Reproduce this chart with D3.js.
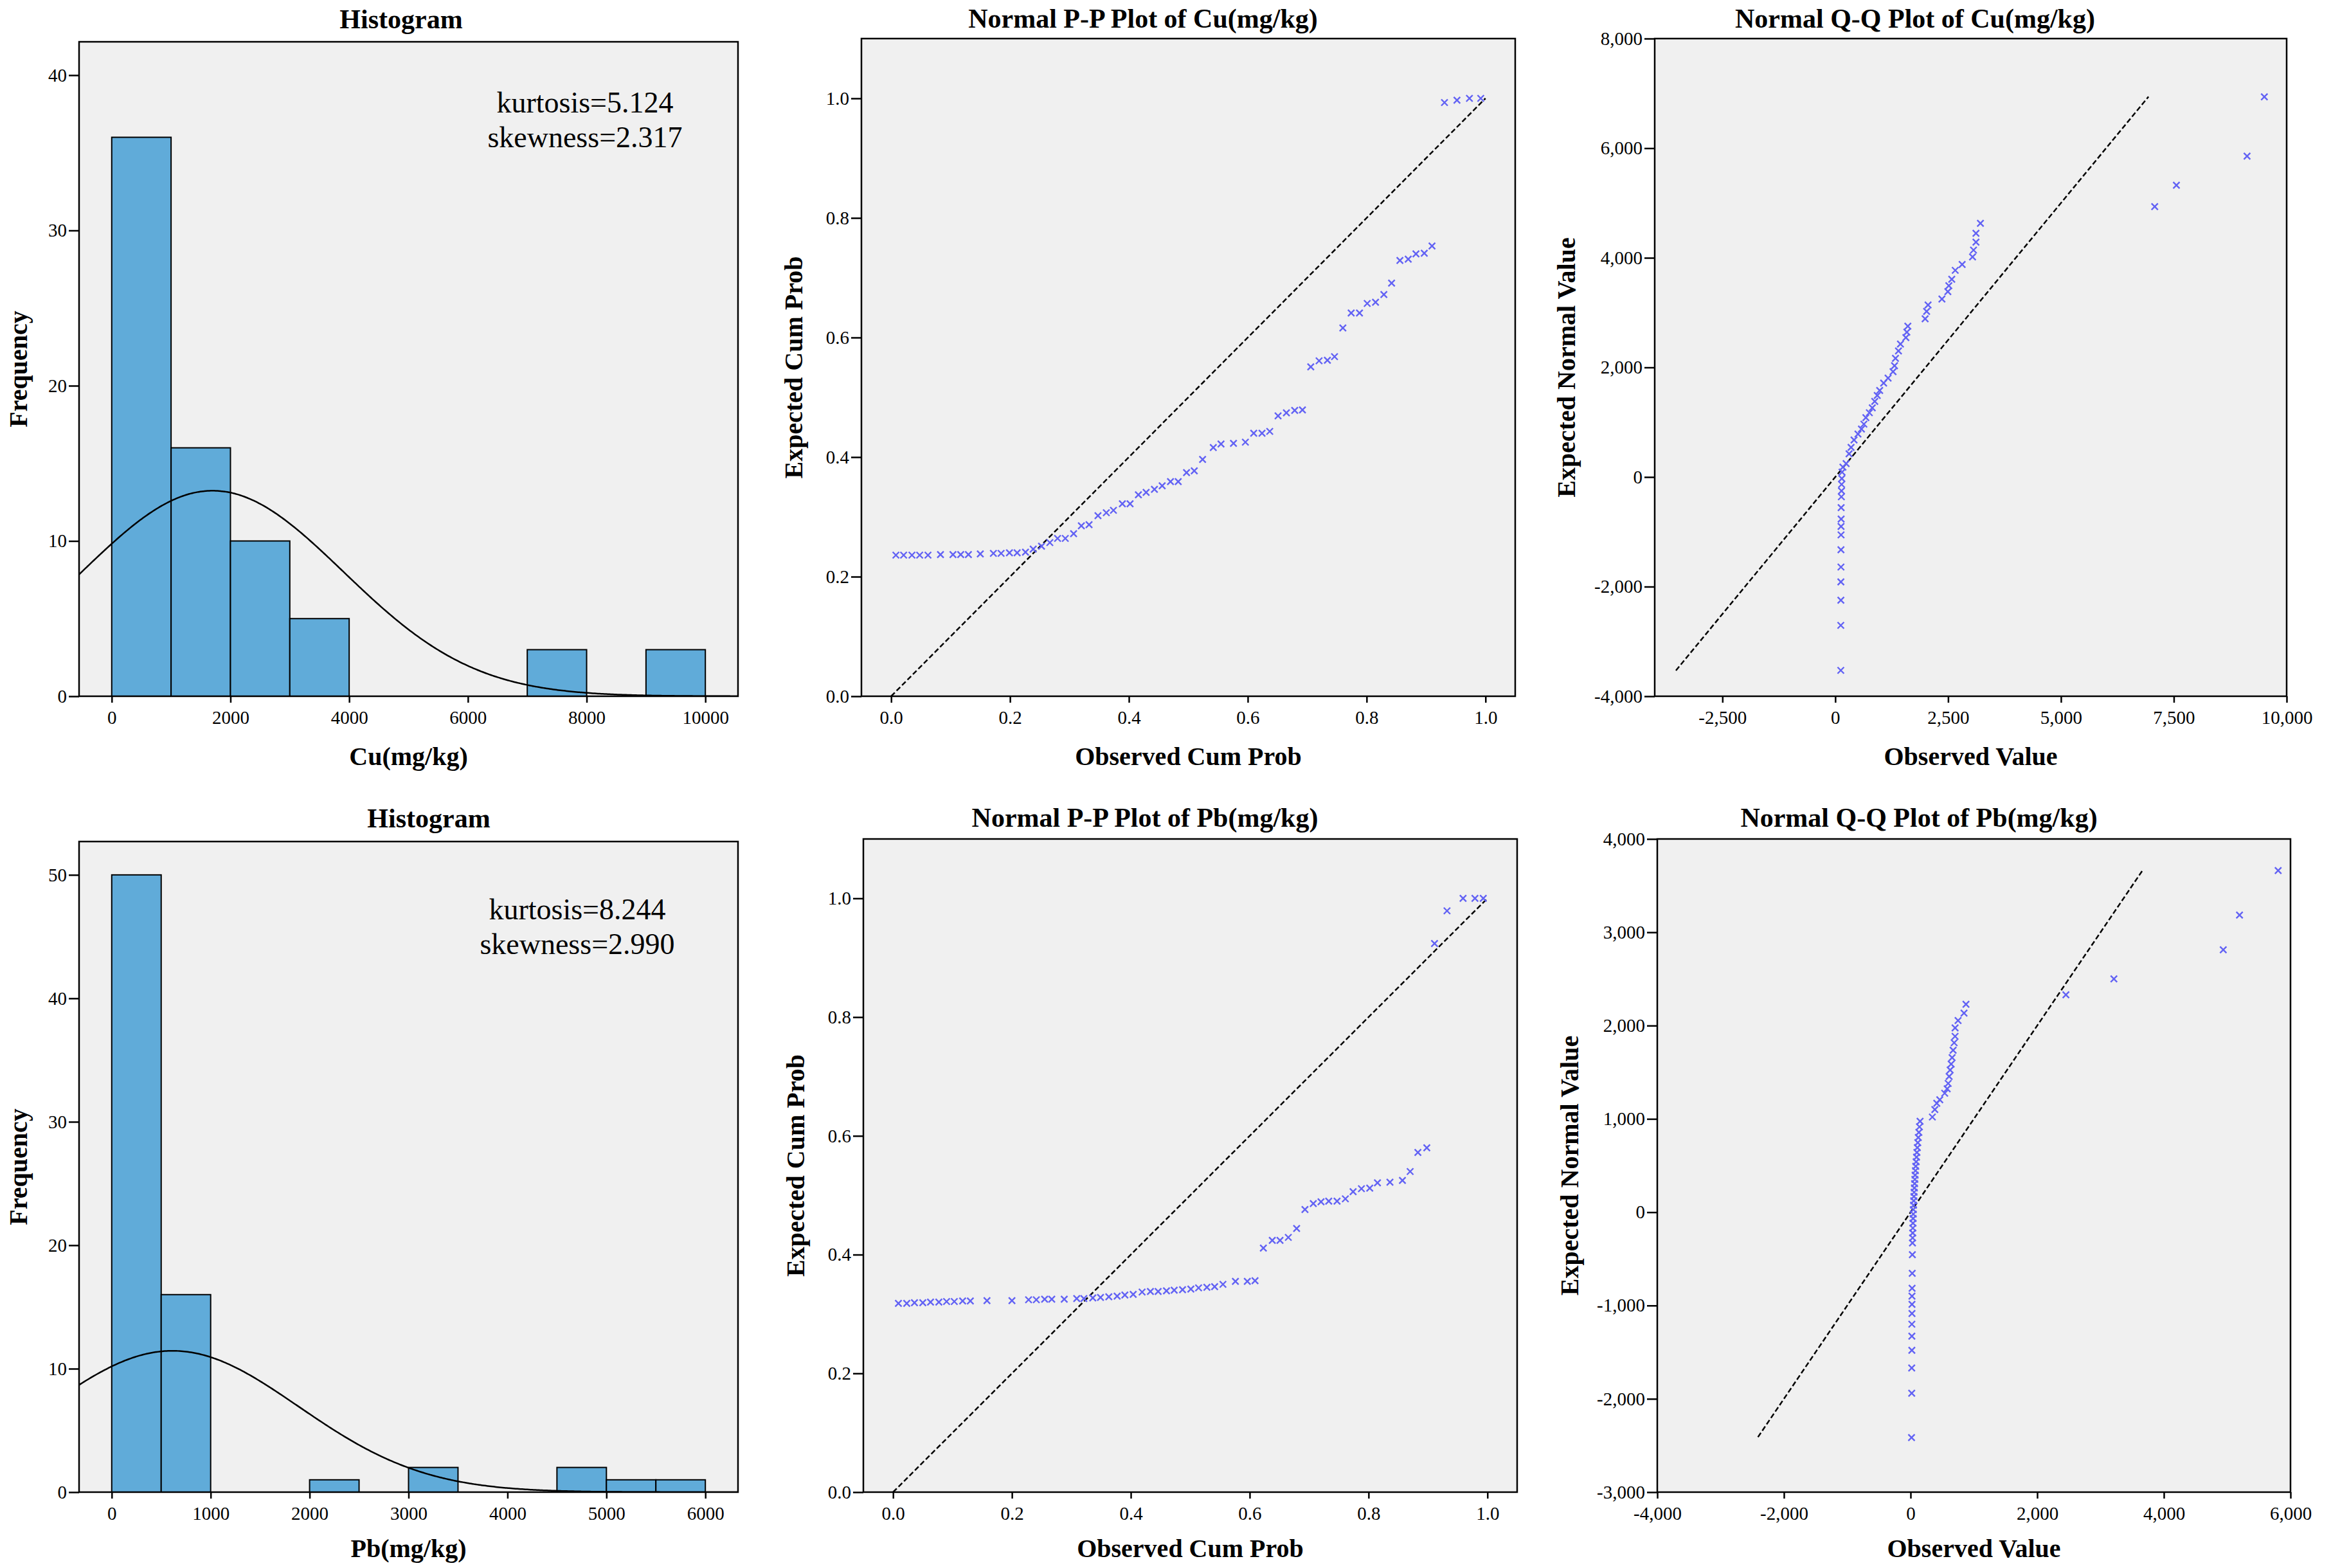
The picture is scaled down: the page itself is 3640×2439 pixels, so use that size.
<!DOCTYPE html>
<html>
<head>
<meta charset="utf-8">
<script src="https://cdn.jsdelivr.net/npm/d3@7"></script>
<style>
body { margin: 0; background: #fff; }
</style>
</head>
<body>
<div id="chart"></div>
<script>
const width = 3640, height = 2439;

// histogram bins: lower edge + count
const cuBinLo = [0, 1000, 2000, 3000, 7000, 9000];
const cuBinCounts = [36, 16, 10, 5, 3, 3];
const cuBinWidth = 1000;
const pbBinLo = [0, 500, 2000, 3000, 4500, 5000, 5500];
const pbBinCounts = [50, 16, 1, 2, 2, 1, 1];
const pbBinWidth = 500;

// fitted normal curve parameters
const sampleN = 73;
const cuMean = 1700, cuSd = 2200;
const pbMean = 615, pbSd = 1272;
const cuNotes = ["kurtosis=5.124", "skewness=2.317"];
const pbNotes = ["kurtosis=8.244", "skewness=2.990"];

// P-P plots (observed cum prob, expected cum prob)
const ppCuObs = [0.008,0.021,0.035,0.048,0.062,0.083,0.104,0.117,0.130,0.150,0.172,0.185,0.199,0.212,0.226,0.239,0.253,0.267,0.280,0.293,0.307,0.320,0.333,0.348,0.362,0.374,0.389,0.402,0.416,0.429,0.443,0.456,0.470,0.483,0.497,0.510,0.524,0.542,0.555,0.576,0.596,0.610,0.624,0.637,0.651,0.665,0.679,0.692,0.706,0.720,0.734,0.746,0.760,0.774,0.788,0.801,0.815,0.829,0.842,0.856,0.870,0.883,0.897,0.910,0.931,0.952,0.973,0.992];
const ppCuExp = [0.236,0.236,0.236,0.236,0.236,0.237,0.237,0.237,0.237,0.238,0.239,0.239,0.240,0.240,0.241,0.246,0.251,0.257,0.264,0.264,0.272,0.285,0.287,0.302,0.307,0.311,0.322,0.322,0.337,0.341,0.346,0.352,0.359,0.359,0.374,0.377,0.396,0.416,0.422,0.423,0.425,0.440,0.440,0.443,0.469,0.474,0.478,0.479,0.551,0.561,0.562,0.568,0.616,0.641,0.641,0.657,0.659,0.672,0.691,0.729,0.731,0.740,0.741,0.753,0.993,0.997,1.000,1.000];
const ppPbObs = [0.009,0.023,0.036,0.050,0.063,0.077,0.090,0.103,0.117,0.130,0.158,0.200,0.228,0.241,0.255,0.267,0.288,0.309,0.321,0.336,0.349,0.363,0.377,0.390,0.404,0.419,0.433,0.446,0.460,0.473,0.487,0.501,0.514,0.528,0.541,0.555,0.576,0.596,0.609,0.623,0.638,0.651,0.665,0.679,0.693,0.707,0.720,0.733,0.747,0.761,0.774,0.788,0.802,0.815,0.836,0.857,0.870,0.883,0.898,0.911,0.932,0.959,0.979,0.993];
const ppPbExp = [0.318,0.318,0.319,0.319,0.320,0.320,0.321,0.321,0.322,0.322,0.3225,0.3225,0.324,0.324,0.325,0.325,0.325,0.326,0.326,0.327,0.328,0.329,0.330,0.332,0.333,0.337,0.338,0.338,0.339,0.340,0.341,0.342,0.344,0.345,0.346,0.350,0.355,0.355,0.356,0.411,0.424,0.424,0.429,0.444,0.476,0.486,0.489,0.490,0.490,0.494,0.506,0.511,0.512,0.521,0.522,0.525,0.540,0.572,0.580,0.924,0.979,1.000,1.000,1.000];

// Q-Q plots (observed value, expected normal value)
const qqCuObs = [122,122,124,124,126,126,128,128,130,130,135,138,140,145,150,170,241,306,350,416,503,580,634,678,755,820,875,930,984,1072,1170,1280,1313,1334,1400,1444,1564,1586,1608,1991,2024,2056,2363,2494,2516,2581,2658,2811,3041,3063,3117,3117,3216,7077,7558,9123,9506];
const qqCuExp = [-3528,-2707,-2247,-1913,-1642,-1326,-1056,-902,-767,-559,-361,-253,-135,-27,90,180,244,424,541,677,785,875,965,1083,1173,1263,1380,1489,1579,1714,1804,1922,2030,2165,2301,2427,2544,2643,2752,2887,3022,3140,3248,3383,3491,3609,3771,3879,4015,4141,4285,4448,4628,4935,5323,5855,6938];
const qqPbObs = [15,18,18,20,20,20,22,22,22,24,26,28,30,32,34,36,38,40,42,44,47,50,53,56,60,64,68,72,77,82,88,94,100,107,114,122,131,140,150,344,383,414,461,539,578,594,609,625,641,656,672,688,703,703,750,844,875,2453,3211,4938,5195,5805];
const qqPbExp = [-2415,-1940,-1670,-1480,-1328,-1200,-1085,-988,-900,-815,-655,-455,-330,-275,-222,-170,-118,-68,-20,28,75,122,168,214,260,306,352,398,445,492,540,590,640,692,745,800,856,915,975,1020,1100,1168,1206,1275,1322,1380,1455,1524,1588,1657,1736,1816,1885,1975,2054,2134,2229,2330,2500,2813,3184,3661];
const qqCuLine = [-3530, 6940];
const qqPbLine = [-2410, 3660];

// tick values
const cuHistXTicks = [0, 2000, 4000, 6000, 8000, 10000];
const cuHistYTicks = [0, 10, 20, 30, 40];
const pbHistXTicks = [0, 1000, 2000, 3000, 4000, 5000, 6000];
const pbHistYTicks = [0, 10, 20, 30, 40, 50];
const ppTicks = [0, 0.2, 0.4, 0.6, 0.8, 1.0];
const qqCuXTicks = [-2500, 0, 2500, 5000, 7500, 10000];
const qqCuYTicks = [-4000, -2000, 0, 2000, 4000, 6000, 8000];
const qqPbXTicks = [-4000, -2000, 0, 2000, 4000, 6000];
const qqPbYTicks = [-3000, -2000, -1000, 0, 1000, 2000, 3000, 4000];

const FONT = "'Palatino Linotype','Book Antiqua',Palatino,'Liberation Serif',serif";
const POINT = "#6262f4";

const svg = d3.select("#chart").append("svg")
    .attr("width", width)
    .attr("height", height)
    .style("background", "#fff");

let clipCount = 0;

function panel(o) {
    const x = d3.scaleLinear().domain(o.xDomain).range([o.x0, o.x1]);
    const y = d3.scaleLinear().domain(o.yDomain).range([o.y1, o.y0]);
    const g = svg.append("g");

    g.append("rect")
        .attr("x", o.x0).attr("y", o.y0)
        .attr("width", o.x1 - o.x0).attr("height", o.y1 - o.y0)
        .attr("fill", "#f0f0f0");

    const id = "clip" + (clipCount++);
    svg.append("clipPath").attr("id", id).append("rect")
        .attr("x", o.x0).attr("y", o.y0)
        .attr("width", o.x1 - o.x0).attr("height", o.y1 - o.y0);
    const plot = g.append("g").attr("clip-path", `url(#${id})`);

    // x axis
    const ax = g.append("g")
        .attr("transform", `translate(0,${o.y1})`)
        .call(d3.axisBottom(x).tickValues(o.xTicks).tickFormat(o.xFmt)
            .tickSize(10).tickSizeOuter(0).tickPadding(12));
    // y axis
    const ay = g.append("g")
        .attr("transform", `translate(${o.x0},0)`)
        .call(d3.axisLeft(y).tickValues(o.yTicks).tickFormat(o.yFmt)
            .tickSize(16).tickSizeOuter(0).tickPadding(3));
    [ax, ay].forEach(a => {
        a.attr("font-family", FONT).attr("font-size", 29);
        a.select(".domain").remove();
        a.selectAll("line").attr("stroke", "#000").attr("stroke-width", 2.5);
        a.selectAll("text").attr("fill", "#000");
    });

    // frame
    g.append("rect")
        .attr("x", o.x0).attr("y", o.y0)
        .attr("width", o.x1 - o.x0).attr("height", o.y1 - o.y0)
        .attr("fill", "none").attr("stroke", "#000").attr("stroke-width", 2.5);

    g.append("text")
        .attr("x", o.titleX).attr("y", o.titleY)
        .attr("text-anchor", "middle")
        .attr("font-family", FONT).attr("font-size", 42).attr("font-weight", "bold")
        .text(o.title);
    g.append("text")
        .attr("x", (o.x0 + o.x1) / 2).attr("y", o.xLabelY)
        .attr("text-anchor", "middle")
        .attr("font-family", FONT).attr("font-size", 40).attr("font-weight", "bold")
        .text(o.xLabel);
    g.append("text")
        .attr("transform", `translate(${o.yLabelX},${(o.y0 + o.y1) / 2}) rotate(-90)`)
        .attr("text-anchor", "middle").attr("dy", "0.33em")
        .attr("font-family", FONT).attr("font-size", 40).attr("font-weight", "bold")
        .text(o.yLabel);

    return {x, y, plot, g};
}

function histogram(o, binLo, counts, binW, mean, sd, notes, noteX, noteY) {
    const p = panel(o);
    const bins = binLo.map((lo, i) => ({lo, hi: lo + binW, n: counts[i]}));
    p.plot.selectAll("rect.bar")
        .data(bins)
        .enter()
        .append("rect")
        .attr("class", "bar")
        .attr("x", d => p.x(d.lo))
        .attr("y", d => p.y(d.n))
        .attr("width", d => p.x(d.hi) - p.x(d.lo))
        .attr("height", d => p.y(0) - p.y(d.n))
        .attr("fill", "#60abd9")
        .attr("stroke", "#000")
        .attr("stroke-width", 2);

    // fitted normal curve, scaled to counts
    const xs = d3.range(o.xDomain[0], o.xDomain[1], (o.xDomain[1] - o.xDomain[0]) / 400).concat([o.xDomain[1]]);
    const dens = v => sampleN * binW * Math.exp(-0.5 * ((v - mean) / sd) ** 2) / (sd * Math.sqrt(2 * Math.PI));
    p.plot.append("path")
        .datum(xs)
        .attr("d", d3.line().x(v => p.x(v)).y(v => p.y(dens(v))).curve(d3.curveBasis))
        .attr("fill", "none")
        .attr("stroke", "#000")
        .attr("stroke-width", 2.5);

    p.g.selectAll("text.note")
        .data(notes)
        .enter()
        .append("text")
        .attr("class", "note")
        .attr("x", noteX)
        .attr("y", (d, i) => noteY + i * 54)
        .attr("text-anchor", "middle")
        .attr("font-family", FONT)
        .attr("font-size", 46)
        .text(d => d);
}

function scatter(o, xs, ys, line) {
    const p = panel(o);
    p.plot.append("line")
        .attr("x1", p.x(line[0])).attr("y1", p.y(line[0]))
        .attr("x2", p.x(line[1])).attr("y2", p.y(line[1]))
        .attr("stroke", "#000")
        .attr("stroke-width", 2.5)
        .attr("stroke-dasharray", "8,4");
    const pts = xs.map((v, i) => [v, ys[i]]);
    p.plot.selectAll("path.pt")
        .data(pts)
        .enter()
        .append("path")
        .attr("class", "pt")
        .attr("transform", d => `translate(${p.x(d[0])},${p.y(d[1])})`)
        .attr("d", "M-5,-5L5,5M-5,5L5,-5")
        .attr("stroke", POINT)
        .attr("stroke-width", 2.4)
        .attr("fill", "none");
}

// plain hyphen for negatives, as in the original output
const locale = d3.formatLocale({decimal: ".", thousands: ",", grouping: [3], currency: ["", ""], minus: "-"});
const fmtInt = locale.format("d");
const fmtComma = locale.format(",");
const fmtP = locale.format(".1f");

// row 1: Cu
histogram({
    x0: 123, x1: 1148, y0: 65, y1: 1083,
    xDomain: [-550, 10550], yDomain: [0, 42.15],
    xTicks: cuHistXTicks, yTicks: cuHistYTicks, xFmt: fmtInt, yFmt: fmtInt,
    title: "Histogram", titleX: 624, titleY: 44,
    xLabel: "Cu(mg/kg)", xLabelY: 1190,
    yLabel: "Frequency", yLabelX: 29
}, cuBinLo, cuBinCounts, cuBinWidth, cuMean, cuSd, cuNotes, 910, 175);

scatter({
    x0: 1340, x1: 2357, y0: 60, y1: 1083,
    xDomain: [-0.05, 1.05], yDomain: [0, 1.1],
    xTicks: ppTicks, yTicks: ppTicks, xFmt: fmtP, yFmt: fmtP,
    title: "Normal P-P Plot of Cu(mg/kg)", titleX: 1778, titleY: 43,
    xLabel: "Observed Cum Prob", xLabelY: 1190,
    yLabel: "Expected Cum Prob", yLabelX: 1235
}, ppCuObs, ppCuExp, [0, 1]);

scatter({
    x0: 2574, x1: 3557, y0: 60, y1: 1083,
    xDomain: [-4000, 10000], yDomain: [-4000, 8000],
    xTicks: qqCuXTicks, yTicks: qqCuYTicks, xFmt: fmtComma, yFmt: fmtComma,
    title: "Normal Q-Q Plot of Cu(mg/kg)", titleX: 2979, titleY: 43,
    xLabel: "Observed Value", xLabelY: 1190,
    yLabel: "Expected Normal Value", yLabelX: 2437
}, qqCuObs, qqCuExp, qqCuLine);

// row 2: Pb
histogram({
    x0: 123, x1: 1148, y0: 1309, y1: 2321,
    xDomain: [-330, 6330], yDomain: [0, 52.7],
    xTicks: pbHistXTicks, yTicks: pbHistYTicks, xFmt: fmtInt, yFmt: fmtInt,
    title: "Histogram", titleX: 667, titleY: 1287,
    xLabel: "Pb(mg/kg)", xLabelY: 2422,
    yLabel: "Frequency", yLabelX: 29
}, pbBinLo, pbBinCounts, pbBinWidth, pbMean, pbSd, pbNotes, 898, 1430);

scatter({
    x0: 1343, x1: 2360, y0: 1305, y1: 2321,
    xDomain: [-0.05, 1.05], yDomain: [0, 1.1],
    xTicks: ppTicks, yTicks: ppTicks, xFmt: fmtP, yFmt: fmtP,
    title: "Normal P-P Plot of Pb(mg/kg)", titleX: 1781, titleY: 1286,
    xLabel: "Observed Cum Prob", xLabelY: 2422,
    yLabel: "Expected Cum Prob", yLabelX: 1238
}, ppPbObs, ppPbExp, [0, 1]);

scatter({
    x0: 2578, x1: 3563, y0: 1305, y1: 2321,
    xDomain: [-4000, 6000], yDomain: [-3000, 4000],
    xTicks: qqPbXTicks, yTicks: qqPbYTicks, xFmt: fmtComma, yFmt: fmtComma,
    title: "Normal Q-Q Plot of Pb(mg/kg)", titleX: 2985, titleY: 1286,
    xLabel: "Observed Value", xLabelY: 2422,
    yLabel: "Expected Normal Value", yLabelX: 2442
}, qqPbObs, qqPbExp, qqPbLine);
</script>
</body>
</html>
